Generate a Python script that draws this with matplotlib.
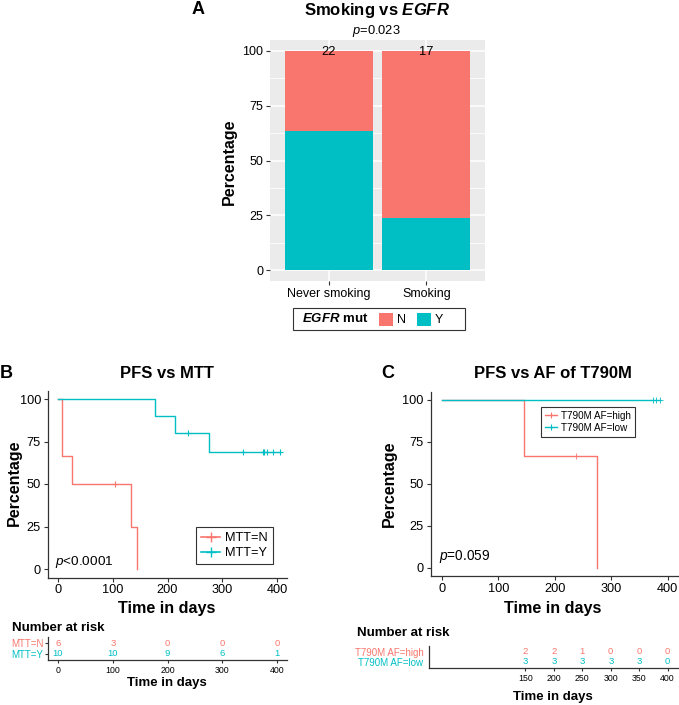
import numpy as np
import matplotlib
matplotlib.use("Agg")
import matplotlib.pyplot as plt
from matplotlib.patches import Rectangle
from matplotlib.lines import Line2D

plt.rcParams['font.family'] = ['Liberation Sans', 'DejaVu Sans']
plt.rcParams['mathtext.fontset'] = 'custom'
plt.rcParams['mathtext.rm'] = 'Liberation Sans'
plt.rcParams['mathtext.it'] = 'Liberation Sans:italic'
plt.rcParams['mathtext.bf'] = 'Liberation Sans:bold'
plt.rcParams['mathtext.bfit'] = 'Liberation Sans:bold:italic'

# ---------------- data ----------------
# Panel A
smoke_categories = ['Never smoking', 'Smoking']
egfr_Y_counts = [14, 4]
egfr_N_counts = [8, 13]
group_totals = [22, 17]
pvalue_A = '0.023'

# Panel B (time in days, 1 = progression event, 0 = censored)
mtt_N_times = [7, 7, 26, 104, 133, 144]
mtt_N_events = [1, 1, 1, 0, 1, 1]
mtt_Y_times = [177, 213, 238, 276, 338, 374, 377, 382, 392, 405]
mtt_Y_events = [1, 1, 0, 1, 0, 0, 0, 0, 0, 0]
risk_times_B = [0, 100, 200, 300, 400]
risk_N_B = [6, 3, 0, 0, 0]
risk_Y_B = [10, 10, 9, 6, 1]

# Panel C
af_high_times = [145, 238, 275]
af_high_events = [1, 0, 1]
af_low_times = [374, 380, 386]
af_low_events = [0, 0, 0]
risk_times_C = [150, 200, 250, 300, 350, 400]
risk_high_C = [2, 2, 1, 0, 0, 0]
risk_low_C = [3, 3, 3, 3, 3, 0]

RED = '#F8766D'
TEAL = '#00BFC4'
AX = '#333333'

W, H = 679, 705
fig = plt.figure(figsize=(W / 100, H / 100), dpi=100)


def rect(l, t, r, b):
    return [l / W, 1 - b / H, (r - l) / W, (b - t) / H]


def fx(x):
    return x / W


def fy(y):
    return 1 - y / H


def km_curve(times, events):
    times = np.asarray(times, float)
    events = np.asarray(events, int)
    s = 100.0
    xs, ys, cx, cy = [0.0], [100.0], [], []
    for t in np.unique(times):
        m = times == t
        n = np.sum(times >= t)
        d = np.sum(events[m])
        c = np.sum(m) - d
        if d > 0:
            s = s * (1 - d / n)
        xs.append(t)
        ys.append(s)
        if c > 0:
            cx.append(t)
            cy.append(s)
    return xs, ys, cx, cy


# ---------------- Panel A ----------------
axA = fig.add_axes(rect(270, 40, 485, 281))
x = np.arange(len(smoke_categories))
pctY = np.array(egfr_Y_counts) / np.array(group_totals) * 100
pctN = np.array(egfr_N_counts) / np.array(group_totals) * 100
axA.set_facecolor('#EBEBEB')
axA.bar(x, pctY, width=0.9, color=TEAL, zorder=3)
axA.bar(x, pctN, bottom=pctY, width=0.9, color=RED, zorder=3)
axA.set_xlim(-0.6, 1.6)
axA.set_ylim(-5, 105)
axA.set_yticks([0, 25, 50, 75, 100])
axA.set_yticks([12.5, 37.5, 62.5, 87.5], minor=True)
axA.set_xticks(x)
axA.set_xticklabels(smoke_categories)
axA.grid(True, which='major', color='white', lw=1.1, zorder=0)
axA.grid(True, which='minor', axis='y', color='white', lw=0.55, zorder=0)
axA.set_axisbelow(True)
for s in axA.spines.values():
    s.set_visible(False)
axA.tick_params(axis='both', which='major', length=3, color=AX, labelsize=9,
                labelcolor='black', pad=2)
axA.tick_params(axis='y', which='minor', length=0)
for xi, n in zip(x, group_totals):
    axA.text(xi, 99.5, str(n), ha='center', va='center', fontsize=9.3, zorder=4)
fig.text(fx(229), fy(162), 'Percentage', rotation=90, ha='center', va='center',
         fontsize=11.5, fontweight='bold')
fig.text(fx(377), fy(10), r'Smoking vs $\mathbfit{EGFR}$', ha='center', va='center',
         fontsize=12, fontweight='bold')
fig.text(fx(376), fy(31), r'$\mathit{p}$=' + pvalue_A, ha='center', va='center', fontsize=9.3)
fig.text(fx(198), fy(10), 'A', ha='center', va='center', fontsize=13, fontweight='bold')

# legend A (horizontal, title at left)
fig.patches.append(Rectangle((fx(293), fy(330)), (465 - 293) / W, 22 / H,
                             transform=fig.transFigure, fill=False, ec=AX, lw=0.8))
fig.text(fx(302), fy(319), r'$\mathbfit{EGFR}$ mut', ha='left', va='center',
         fontsize=9.5, fontweight='bold')
for (x0, lab, col) in [(379, 'N', RED), (417, 'Y', TEAL)]:
    fig.patches.append(Rectangle((fx(x0), fy(326)), 14 / W, 13 / H,
                                 transform=fig.transFigure, color=col, lw=0))
    fig.text(fx(x0 + 18), fy(319.5), lab, ha='left', va='center', fontsize=9)


def style_km_axes(ax):
    for s in ['top', 'right']:
        ax.spines[s].set_visible(False)
    for s in ['left', 'bottom']:
        ax.spines[s].set_color(AX)
        ax.spines[s].set_linewidth(0.9)
    ax.tick_params(length=3, color=AX, labelsize=9.2, pad=2)


# ---------------- Panel B ----------------
axB = fig.add_axes(rect(48, 390.5, 287, 577.5))
for times, events, col, lab in [(mtt_N_times, mtt_N_events, RED, 'MTT=N'),
                                (mtt_Y_times, mtt_Y_events, TEAL, 'MTT=Y')]:
    xs, ys, cx, cy = km_curve(times, events)
    axB.step(xs, ys, where='post', color=col, lw=1.0)
    axB.plot(cx, cy, ls='none', marker='+', ms=5, mew=0.8, color=col)
axB.set_xlim(-18.3, 418.3)
axB.set_ylim(-5, 105)
axB.set_xticks([0, 100, 200, 300, 400])
axB.set_yticks([0, 25, 50, 75, 100])
style_km_axes(axB)
axB.text(-5, 4, r'$\mathit{p}$<0.0001', ha='left', va='center', fontsize=9.7)
hB = [Line2D([], [], color=RED, marker='+', ms=7, mew=1, lw=1.2),
      Line2D([], [], color=TEAL, marker='+', ms=7, mew=1, lw=1.2)]
legB = axB.legend(hB, ['MTT=N', 'MTT=Y'], loc='upper left',
                  bbox_to_anchor=(fx(196), fy(527)), bbox_transform=fig.transFigure,
                  borderaxespad=0, fontsize=9.2, fancybox=False, edgecolor=AX,
                  handlelength=1.5, handletextpad=0.4, borderpad=0.4, labelspacing=0.25,
                  framealpha=1)
legB.get_frame().set_linewidth(0.8)
fig.text(fx(167), fy(373), 'PFS vs MTT', ha='center', va='center', fontsize=12, fontweight='bold')
fig.text(fx(6), fy(373), 'B', ha='center', va='center', fontsize=13, fontweight='bold')
fig.text(fx(14), fy(483), 'Percentage', rotation=90, ha='center', va='center',
         fontsize=11.5, fontweight='bold')
fig.text(fx(167), fy(608), 'Time in days', ha='center', va='center', fontsize=11.6, fontweight='bold')

# risk table B
tB = fig.add_axes(rect(48, 637, 287, 660))
tB.set_xlim(-18.3, 418.3)
tB.set_ylim(0.4, 2.6)
for t, nN, nY in zip(risk_times_B, risk_N_B, risk_Y_B):
    tB.text(t, 2, str(nN), ha='center', va='center', color=RED, fontsize=6.8)
    tB.text(t, 1, str(nY), ha='center', va='center', color=TEAL, fontsize=6.8)
tB.set_xticks([0, 100, 200, 300, 400])
tB.set_yticks([2, 1])
tB.set_yticklabels(['MTT=N', 'MTT=Y'])
for lbl, col in zip(tB.get_yticklabels(), [RED, TEAL]):
    lbl.set_color(col)
style_km_axes(tB)
tB.tick_params(axis='x', labelsize=6.3, length=2.5, pad=1.5)
tB.tick_params(axis='y', labelsize=7, length=2.5, pad=1)
fig.text(fx(12), fy(628), 'Number at risk', ha='left', va='center', fontsize=9.5, fontweight='bold')
fig.text(fx(167), fy(683), 'Time in days', ha='center', va='center', fontsize=9.5, fontweight='bold')

# ---------------- Panel C ----------------
axC = fig.add_axes(rect(430.7, 391.6, 679, 576.4))
for times, events, col in [(af_high_times, af_high_events, RED),
                           (af_low_times, af_low_events, TEAL)]:
    xs, ys, cx, cy = km_curve(times, events)
    axC.step(xs, ys, where='post', color=col, lw=1.0)
    axC.plot(cx, cy, ls='none', marker='+', ms=4, mew=0.6, color=col)
axC.set_xlim(-19.5, 420)
axC.set_ylim(-5, 105)
axC.set_xticks([0, 100, 200, 300, 400])
axC.set_yticks([0, 25, 50, 75, 100])
style_km_axes(axC)
axC.text(-5, 7, r'$\mathit{p}$=0.059', ha='left', va='center', fontsize=9.8)
hC = [Line2D([], [], color=RED, marker='+', ms=5, mew=0.8, lw=1),
      Line2D([], [], color=TEAL, marker='+', ms=5, mew=0.8, lw=1)]
legC = axC.legend(hC, ['T790M AF=high', 'T790M AF=low'], loc='upper left',
                  bbox_to_anchor=(fx(541), fy(407)), bbox_transform=fig.transFigure,
                  borderaxespad=0, fontsize=7.1, fancybox=False, edgecolor=AX,
                  handlelength=1.2, handletextpad=0.4, borderpad=0.4, labelspacing=0.2,
                  framealpha=1)
legC.get_frame().set_linewidth(0.8)
fig.text(fx(553), fy(374), 'PFS vs AF of T790M', ha='center', va='center', fontsize=12, fontweight='bold')
fig.text(fx(388), fy(374), 'C', ha='center', va='center', fontsize=13, fontweight='bold')
fig.text(fx(389), fy(484), 'Percentage', rotation=90, ha='center', va='center',
         fontsize=11.5, fontweight='bold')
fig.text(fx(553), fy(608), 'Time in days', ha='center', va='center', fontsize=11.6, fontweight='bold')

# risk table C
tC = fig.add_axes(rect(429, 646, 679, 668))
tC.set_xlim(-19.5, 420)
tC.set_ylim(0.4, 2.6)
for t, nh, nl in zip(risk_times_C, risk_high_C, risk_low_C):
    tC.text(t, 2, str(nh), ha='center', va='center', color=RED, fontsize=6.8)
    tC.text(t, 1, str(nl), ha='center', va='center', color=TEAL, fontsize=6.8)
tC.set_xticks(risk_times_C)
tC.set_yticks([2, 1])
tC.set_yticklabels(['T790M AF=high', 'T790M AF=low'])
for lbl, col in zip(tC.get_yticklabels(), [RED, TEAL]):
    lbl.set_color(col)
style_km_axes(tC)
tC.tick_params(axis='x', labelsize=6.3, length=2.5, pad=1.5)
tC.tick_params(axis='y', labelsize=7, length=0, pad=4)
fig.text(fx(357), fy(633), 'Number at risk', ha='left', va='center', fontsize=9.5, fontweight='bold')
fig.text(fx(553), fy(697), 'Time in days', ha='center', va='center', fontsize=9.5, fontweight='bold')

fig.savefig('out.png', dpi=100)
